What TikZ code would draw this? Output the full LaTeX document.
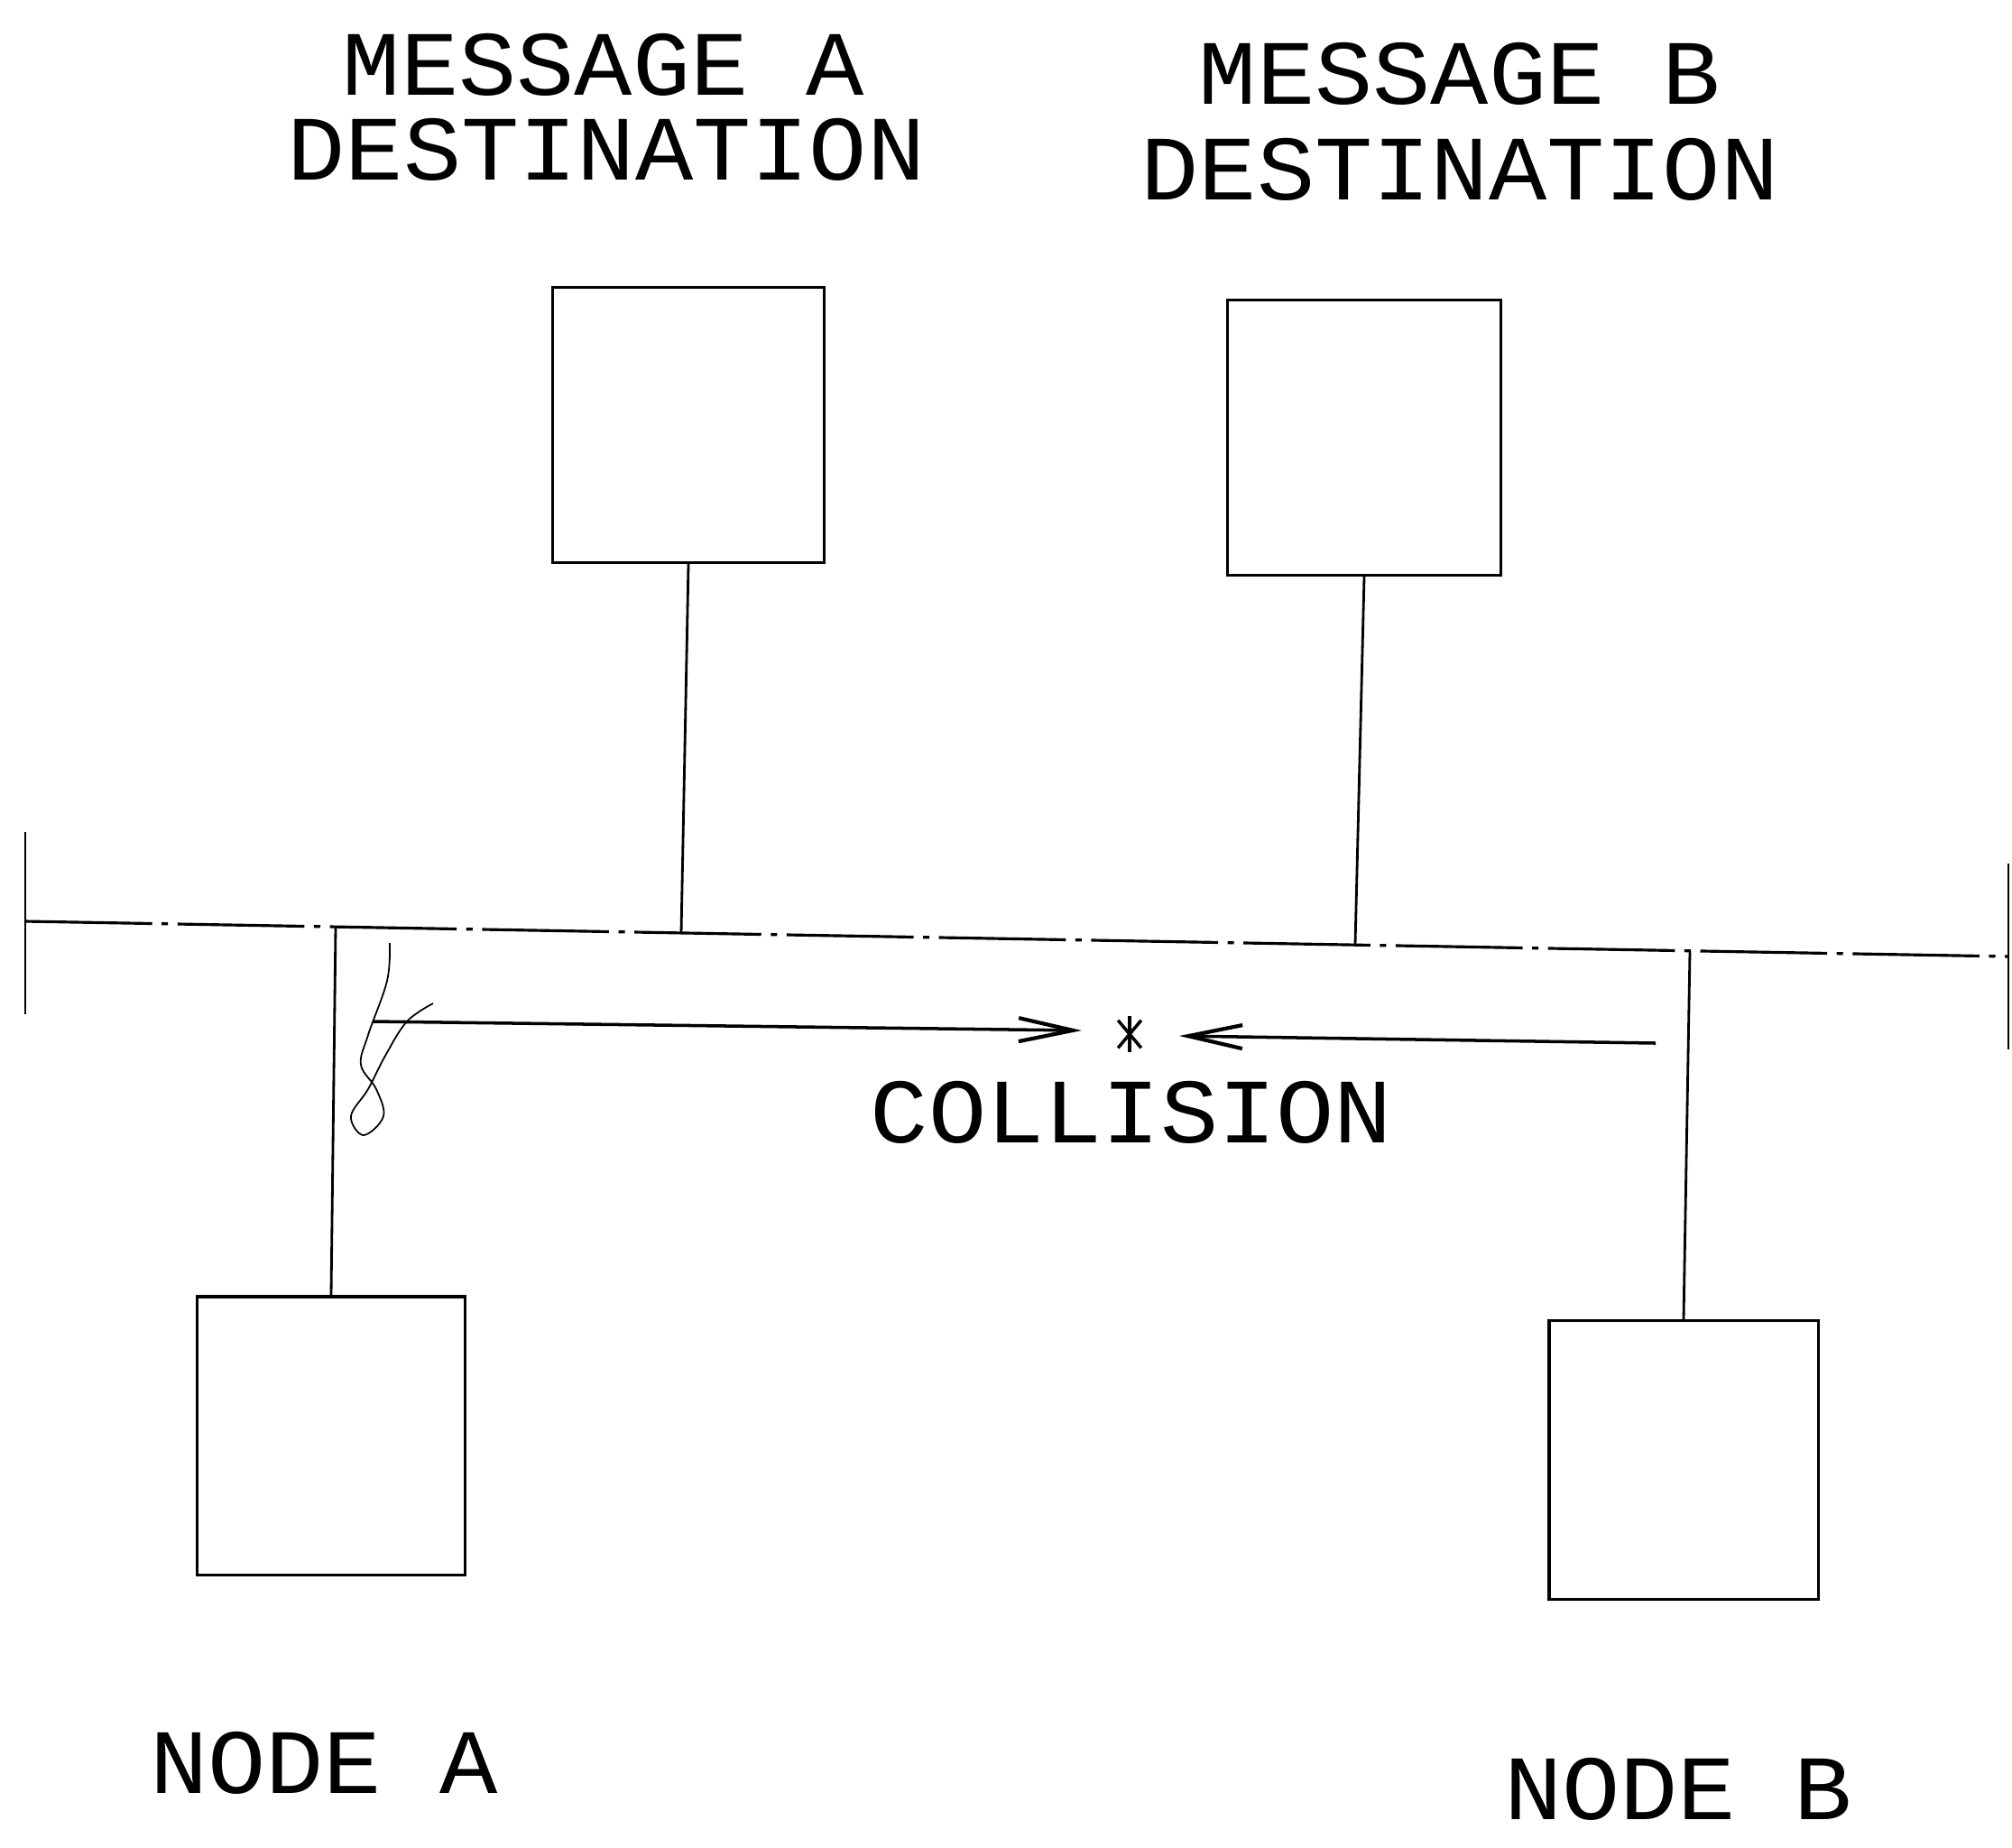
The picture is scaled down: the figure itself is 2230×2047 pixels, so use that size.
\documentclass[tikz,border=0pt]{standalone}
\usepackage{fontspec}
\newfontfamily\plotfont{Liberation Mono}
\usetikzlibrary{arrows.meta}

\begin{document}
\begin{tikzpicture}[x=0.01cm, y=-0.01cm,
    line width=0.8pt,
    station/.style={draw, rectangle, line width=0.9pt, inner sep=0pt},
    label/.style={font=\plotfont\fontsize{29}{31}\selectfont, xscale=1.05, inner sep=0pt},
    bus/.style={line width=0.9pt, dash pattern=on 40pt off 3pt on 2pt off 3pt},
    signal/.style={line width=1pt, -{Straight Barb[length=0.6cm, width=0.26cm, line width=1.2pt]}}]
    \useasboundingbox (0,0) rectangle (2230,2047);
    % Stations
    \node[station, minimum width=3.01cm, minimum height=3.05cm] (destA) at (763,471) {};
    \node[station, minimum width=3.03cm, minimum height=3.05cm] (destB) at (1512,485) {};
    \node[station, minimum width=2.97cm, minimum height=3.08cm] (nodeA) at (367,1591) {};
    \node[station, minimum width=2.98cm, minimum height=3.09cm] (nodeB) at (1866,1618) {};
    % Labels
    \node[label] (msgA) at (669,72) {MESSAGE A};
    \node[label] (dstA) at (672,166) {DESTINATION};
    \node[label] (msgB) at (1618,82) {MESSAGE B};
    \node[label] (dstB) at (1618,188) {DESTINATION};
    \node[label] (labA) at (359,1954) {NODE A};
    \node[label] (labB) at (1860,1983) {NODE B};
    \node[label] (coll) at (1254,1233) {COLLISION};
    % Bus and terminators
    \coordinate (busL) at (28,1021);
    \coordinate (busR) at (2226,1060);
    \draw[bus] (busL) -- (busR);
    \draw (28,922) -- (28,1124);
    \draw (2226,957) -- (2226,1163);
    % Taps
    \coordinate (tapMA) at (755,1034);
    \coordinate (tapMB) at (1502,1047);
    \coordinate (tapNA) at (372,1027);
    \coordinate (tapNB) at (1873,1054);
    \draw (destA.south) -- (tapMA);
    \draw (destB.south) -- (tapMB);
    \draw (nodeA.north) -- (tapNA);
    \draw (nodeB.north) -- (tapNB);
    % Colliding messages
    \coordinate (hit) at (1252,1146);
    \coordinate (sendA) at (413,1132);
    \coordinate (tipA) at (1199,1142);
    \coordinate (sendB) at (1835,1156);
    \coordinate (tipB) at (1307,1148);
    \draw[signal] (sendA) -- (tipA);
    \draw[signal] (sendB) -- (tipB);
    \foreach \a in {90,50,130}
        \draw[line width=1pt] ([shift={(\a:20)}]hit) -- ([shift={(\a+180:20)}]hit);
    % Scribble
    \draw[line width=0.5pt] plot[smooth, tension=0.6] coordinates
        {(480,1112) (451,1132) (427,1170) (408,1207) (389,1237) (403,1258) (425,1237) (417,1207) (400,1180) (408,1147) (429,1087) (432,1045)};
\end{tikzpicture}
\end{document}
